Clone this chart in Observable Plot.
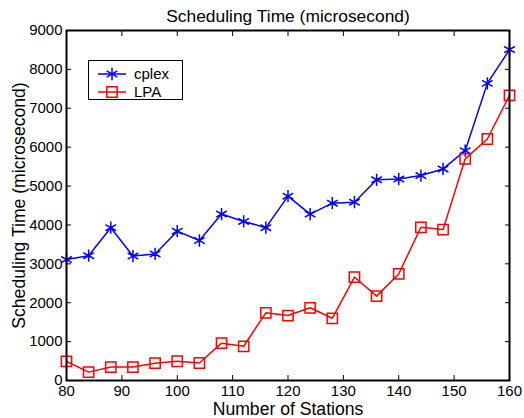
<!DOCTYPE html>
<html>
<head>
<meta charset="utf-8">
<script src="https://cdn.jsdelivr.net/npm/d3@7"></script>
<script src="https://cdn.jsdelivr.net/npm/@observablehq/plot@0.6"></script>
<style>
  html, body { margin: 0; padding: 0; background: #fff; }
  #wrap { position: relative; width: 524px; height: 418px; font-family: "Liberation Sans", Arial, sans-serif; }
  #legend { position: absolute; left: 88px; top: 60px; width: 95px; height: 40px; border: 1px solid #000; background: #fff; box-sizing: border-box; }
</style>
</head>
<body>
<div id="wrap"></div>
<script>
const stations = [80, 84, 88, 92, 96, 100, 104, 108, 112, 116, 120, 124, 128, 132, 136, 140, 144, 148, 152, 156, 160];
const cplex = [3110, 3210, 3930, 3200, 3255, 3840, 3600, 4280, 4090, 3930, 4740, 4280, 4560, 4585, 5160, 5180, 5270, 5440, 5910, 7640, 8510];
const lpa = [490, 215, 345, 345, 445, 495, 450, 960, 880, 1740, 1670, 1870, 1600, 2660, 2170, 2740, 3940, 3880, 5700, 6210, 7330];
const seriesNames = ["cplex", "LPA"];
const xTicks = [80, 90, 100, 110, 120, 130, 140, 150, 160];
const yTicks = [0, 1000, 2000, 3000, 4000, 5000, 6000, 7000, 8000, 9000];
const titleText = "Scheduling Time (microsecond)";
const xLabel = "Number of Stations";
const yLabel = "Scheduling Time (microsecond)";

const colors = {cplex: "#0000ff", LPA: "#ff0000"};
const rows = [];
stations.forEach((s, i) => {
  rows.push({series: "cplex", x: s, y: cplex[i]});
  rows.push({series: "LPA", x: s, y: lpa[i]});
});
const cRows = rows.filter(d => d.series === "cplex");
const lRows = rows.filter(d => d.series === "LPA");

const font = "Liberation Sans, Arial, sans-serif";

const chart = Plot.plot({
  width: 524,
  height: 418,
  marginLeft: 66,
  marginRight: 15,
  marginTop: 30,
  marginBottom: 38,
  style: {fontFamily: font, fontSize: "15px", background: "#fff", color: "#000"},
  x: {domain: [80, 160]},
  y: {domain: [0, 9000]},
  marks: [
    Plot.axisX({ticks: xTicks, tickSize: -5, tickPadding: 10, label: null, fontSize: 15, tickFormat: d => String(d)}),
    Plot.axisX({anchor: "top", ticks: xTicks, tickSize: -5, label: null, tickFormat: () => ""}),
    Plot.axisY({ticks: yTicks, tickSize: -5, tickPadding: 9, label: null, fontSize: 15, tickFormat: d => String(d)}),
    Plot.axisY({anchor: "right", ticks: yTicks, tickSize: -5, label: null, tickFormat: () => ""}),
    Plot.line(cRows, {x: "x", y: "y", stroke: colors.cplex, strokeWidth: 1.5}),
    Plot.dot(cRows, {x: "x", y: "y", symbol: "asterisk", r: 5.8, stroke: colors.cplex, strokeWidth: 1.5}),
    Plot.line(lRows, {x: "x", y: "y", stroke: colors.LPA, strokeWidth: 1.5}),
    Plot.dot(lRows, {x: "x", y: "y", symbol: "square", r: 5.8, stroke: colors.LPA, fill: "none", strokeWidth: 1.5}),
    Plot.frame({stroke: "#000", strokeWidth: 2}),
    Plot.text([titleText], {text: d => d, frameAnchor: "top", dy: -21, fontSize: 17.4}),
    Plot.text([xLabel], {text: d => d, frameAnchor: "bottom", dy: 34, fontSize: 17.6}),
    Plot.text([yLabel], {text: d => d, frameAnchor: "left", textAnchor: "middle", lineAnchor: "middle", rotate: -90, dx: -47, fontSize: 17.6})
  ]
});

const wrap = document.getElementById("wrap");
wrap.appendChild(chart);

// legend
const legend = document.createElement("div");
legend.id = "legend";
const ns = "http://www.w3.org/2000/svg";
const lsvg = document.createElementNS(ns, "svg");
lsvg.setAttribute("width", 93);
lsvg.setAttribute("height", 38);
lsvg.style.display = "block";
seriesNames.forEach((name, i) => {
  const cy = 13 + i * 18;
  const c = colors[name];
  const line = document.createElementNS(ns, "line");
  line.setAttribute("x1", 9); line.setAttribute("x2", 37);
  line.setAttribute("y1", cy); line.setAttribute("y2", cy);
  line.setAttribute("stroke", c); line.setAttribute("stroke-width", 1.5);
  lsvg.appendChild(line);
  const p = document.createElementNS(ns, "path");
  const sym = name === "cplex" ? d3.symbolAsterisk : d3.symbolSquare;
  p.setAttribute("d", d3.symbol(sym, Math.PI * 5.8 ** 2)());
  p.setAttribute("transform", `translate(23,${cy})`);
  p.setAttribute("stroke", c); p.setAttribute("fill", "none"); p.setAttribute("stroke-width", 1.5);
  lsvg.appendChild(p);
  const t = document.createElementNS(ns, "text");
  t.setAttribute("x", 45); t.setAttribute("y", cy);
  t.setAttribute("dy", "0.35em");
  t.setAttribute("font-family", font);
  t.setAttribute("font-size", 15);
  t.textContent = name;
  lsvg.appendChild(t);
});
legend.appendChild(lsvg);
wrap.appendChild(legend);
</script>
</body>
</html>
